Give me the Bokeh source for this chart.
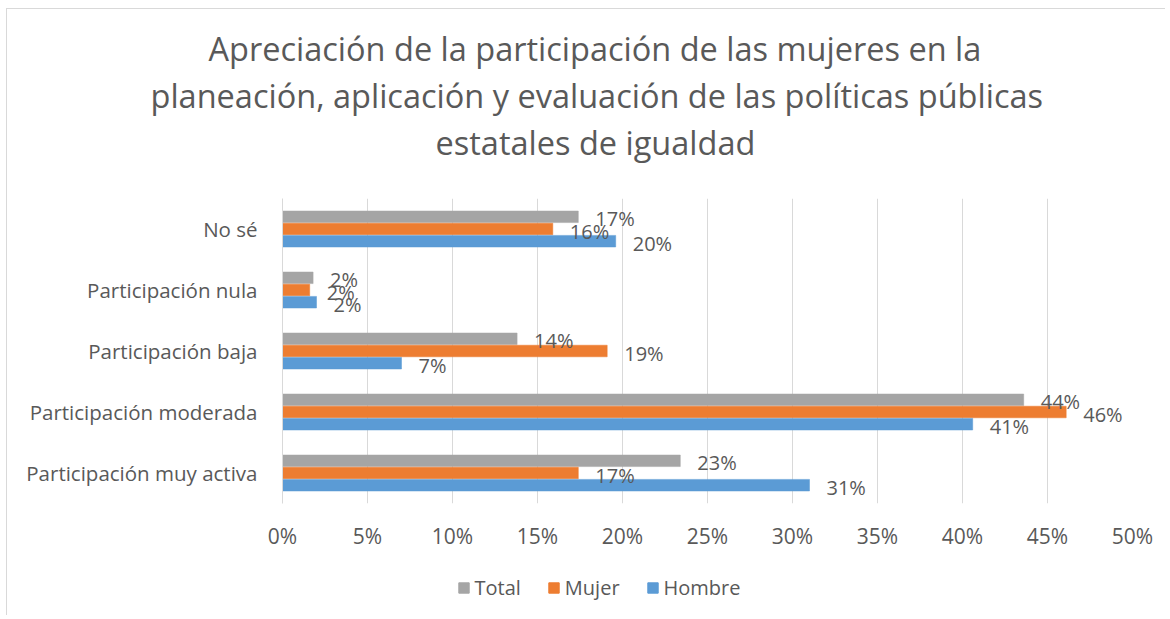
from bokeh.plotting import figure
from bokeh.models import (FactorRange, Range1d, FixedTicker, PrintfTickFormatter,
                          ColumnDataSource, Legend, LegendItem, Title)
from bokeh.layouts import column
from bokeh.transform import dodge
from bokeh.core.properties import value
from bokeh.embed import file_html
from bokeh.resources import INLINE

# ---- data ----
categories = ["No sé", "Participación nula", "Participación baja",
              "Participación moderada", "Participación muy activa"]
total = [17.4, 1.8, 13.8, 43.6, 23.4]
mujer = [15.9, 1.6, 19.1, 46.1, 17.4]
hombre = [19.6, 2.0, 7.0, 40.6, 31.0]
series_names = ["Total", "Mujer", "Hombre"]
x_ticks = [0, 5, 10, 15, 20, 25, 30, 35, 40, 45, 50]
title_lines = ["Apreciación de la participación de las mujeres en la",
               "planeación, aplicación y evaluación de las políticas públicas",
               "estatales de igualdad"]

FONT = "Open Sans"
TXT = "#595959"
colors = {"Total": "#A5A5A5", "Mujer": "#ED7D31", "Hombre": "#5B9BD5"}
W = 1158

source = ColumnDataSource(dict(
    cat=categories,
    total=total, mujer=mujer, hombre=hombre,
    total_lbl=[f"{round(v)}%" for v in total],
    mujer_lbl=[f"{round(v)}%" for v in mujer],
    hombre_lbl=[f"{round(v)}%" for v in hombre],
))

# ---- main chart ----
p = figure(width=W, height=544, output_backend="svg", toolbar_location=None,
           y_range=FactorRange(factors=list(reversed(categories))),
           x_range=Range1d(0, 50),
           min_border_left=275, min_border_right=33,
           min_border_top=189, min_border_bottom=50)
p.outline_line_color = None

offsets = {"Total": 0.2, "Mujer": 0.0, "Hombre": -0.2}
cols = {"Total": "total", "Mujer": "mujer", "Hombre": "hombre"}
for name in series_names:
    p.hbar(y=dodge("cat", offsets[name], range=p.y_range), right=cols[name],
           left=0, height=0.19, source=source,
           fill_color=colors[name], line_color=colors[name], line_width=0.5)
for name in series_names:
    p.text(x=cols[name], y=dodge("cat", offsets[name], range=p.y_range),
           text=cols[name] + "_lbl", source=source, x_offset=17, y_offset=2,
           text_baseline="middle", text_align="left",
           text_font=value(FONT), text_font_size=value("20px"), text_color=TXT)

xa = p.xaxis[0]
xa.ticker = FixedTicker(ticks=x_ticks)
xa.formatter = PrintfTickFormatter(format="%d%%")
xa.axis_line_color = None
xa.major_tick_line_color = None
xa.minor_tick_line_color = None
xa.major_tick_out = 0
xa.major_label_standoff = 18
xa.major_label_text_font = FONT
xa.major_label_text_font_size = "21px"
xa.major_label_text_color = TXT

ya = p.yaxis[0]
ya.axis_line_color = "#D9D9D9"
ya.axis_line_width = 1
ya.major_tick_line_color = None
ya.minor_tick_line_color = None
ya.major_tick_out = 0
ya.major_label_standoff = 25
ya.major_label_text_font = FONT
ya.major_label_text_font_size = "20.5px"
ya.major_label_text_color = TXT

p.xgrid.ticker = FixedTicker(ticks=x_ticks)
p.xgrid.grid_line_color = "#D9D9D9"
p.ygrid.grid_line_color = None

# title: spacer, then lines stacked upward from the frame
p.add_layout(Title(text=" ", text_font_size="1px", standoff=31), "above")
title_offsets = [-74, -132, 153]
for txt, off in reversed(list(zip(title_lines, title_offsets))):
    p.add_layout(Title(text=txt, align="left", offset=off, standoff=0,
                       text_font=FONT, text_font_size="32.5px", text_font_style="normal",
                       text_color=TXT), "above")

# ---- legend strip (swatch renderers sit outside its visible range) ----
pl = figure(width=W, height=62, output_backend="svg", toolbar_location=None,
            x_range=Range1d(0, 1), y_range=Range1d(0, 1),
            x_axis_type=None, y_axis_type=None,
            min_border_left=275, min_border_right=33, min_border_top=0, min_border_bottom=0)
pl.outline_line_color = None
pl.xgrid.visible = False
pl.ygrid.visible = False
leg_renderers = {n: pl.hbar(y=[-5], left=[0], right=[1], height=0.1,
                            fill_color=colors[n], line_color=colors[n])
                 for n in series_names}
legend = Legend(items=[LegendItem(label=n, renderers=[leg_renderers[n]]) for n in series_names],
                orientation="horizontal", location=(174.5, 14),
                glyph_width=13, glyph_height=13, label_standoff=5, spacing=26,
                padding=0, margin=0, border_line_color=None, background_fill_alpha=0,
                label_text_font=FONT, label_text_font_size="20px", label_text_color=TXT)
pl.add_layout(legend)

layout = column(p, pl, spacing=0)
layout.styles = {"margin-top": "8px", "margin-left": "6px",
                 "border-top": "1px solid #D9D9D9", "border-left": "1px solid #D9D9D9"}

open("out.html", "w").write(file_html(layout, INLINE))
